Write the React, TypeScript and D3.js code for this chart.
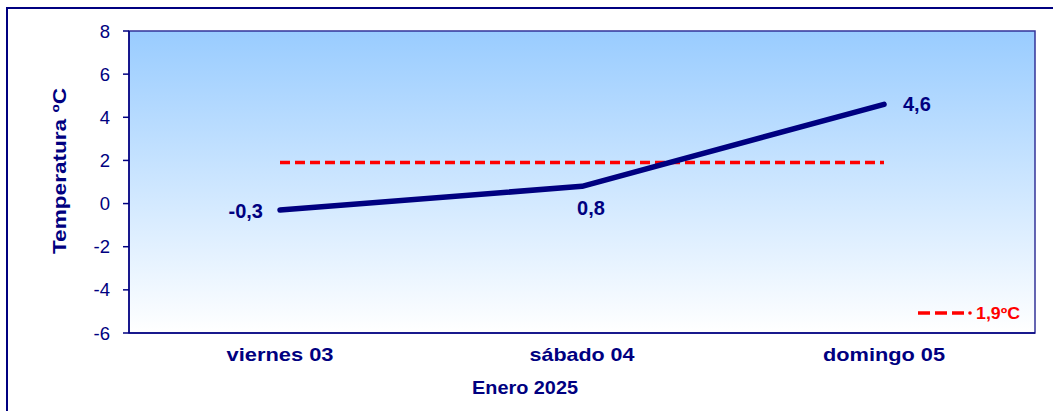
import React from "react";
import * as d3 from "d3";

const categories = ["viernes 03", "sábado 04", "domingo 05"];
const temps = [-0.3, 0.8, 4.6];
const tempLabels = ["-0,3", "0,8", "4,6"];
const average = 1.9;
const averageLabel = "1,9ºC";
const yTicks = [-6, -4, -2, 0, 2, 4, 6, 8];
const xTitle = "Enero 2025";
const yTitle = "Temperatura ºC";

const W = 1053;
const H = 411;
const plot = { left: 129, top: 31, right: 1035, bottom: 333 };
const navy = "#000080";
const font = "Liberation Sans, Arial, sans-serif";

export default function App() {
  const x = d3
    .scaleBand<string>()
    .domain(categories)
    .range([plot.left, plot.right])
    .padding(0);
  const y = d3.scaleLinear().domain([-6, 8]).range([plot.bottom, plot.top]);
  const cx = (c: string) => (x(c) as number) + x.bandwidth() / 2;

  const pts = categories.map((c, i) => [cx(c), y(temps[i])] as [number, number]);
  const line = d3.line()(pts) as string;

  const labelWidths = [107, 105, 122];
  const dataLabelPos = [
    { dx: -17, anchor: "end", dy: 8 },
    { dx: 9, anchor: "middle", dy: 29 },
    { dx: 19, anchor: "start", dy: 7 },
  ];

  return (
    <svg
      width={W}
      height={H}
      style={{ position: "absolute", left: 0, top: 0 }}
      fontFamily={font}
    >
      <defs>
        <linearGradient id="bg" x1="0" y1="0" x2="0" y2="1">
          <stop offset="0" stopColor="#99CCFF" />
          <stop offset="1" stopColor="#FFFFFF" />
        </linearGradient>
      </defs>
      <rect x={0} y={0} width={W} height={H} fill="#fff" />
      <rect x={7} y={8} width={W + 20} height={H + 20} fill="none" stroke={navy} strokeWidth={2} />

      <rect
        x={plot.left}
        y={plot.top}
        width={plot.right - plot.left}
        height={plot.bottom - plot.top}
        fill="url(#bg)"
        stroke="#333399"
        strokeWidth={1.5}
      />
      <line x1={plot.left} x2={plot.left} y1={plot.top} y2={plot.bottom} stroke={navy} strokeWidth={1.5} />
      <line x1={plot.left} x2={plot.right} y1={plot.bottom} y2={plot.bottom} stroke={navy} strokeWidth={1.5} />

      {yTicks.map((t) => (
        <g key={t}>
          <line x1={plot.left - 6} x2={plot.left} y1={y(t)} y2={y(t)} stroke={navy} strokeWidth={1.5} />
          <text x={110} y={y(t) + 6.5} textAnchor="end" fontSize={18.5} fill={navy}>
            {t}
          </text>
        </g>
      ))}

      {categories.map((c, i) => (
        <text
          key={c}
          x={cx(c)}
          y={361}
          textAnchor="middle"
          fontSize={19}
          fontWeight="bold"
          fill={navy}
          textLength={labelWidths[i]}
          lengthAdjust="spacingAndGlyphs"
        >
          {c}
        </text>
      ))}

      <text
        x={525}
        y={394}
        textAnchor="middle"
        fontSize={19}
        fontWeight="bold"
        fill={navy}
        textLength={106}
        lengthAdjust="spacingAndGlyphs"
      >
        {xTitle}
      </text>

      <text
        transform={`translate(66,171) rotate(-90)`}
        textAnchor="middle"
        fontSize={17.5}
        fontWeight="bold"
        fill={navy}
        textLength={166}
        lengthAdjust="spacingAndGlyphs"
      >
        {yTitle}
      </text>

      <line
        x1={cx(categories[0])}
        x2={cx(categories[categories.length - 1])}
        y1={y(average)}
        y2={y(average)}
        stroke="#FF0000"
        strokeWidth={3.5}
        strokeDasharray="10,5"
      />

      <path d={line} fill="none" stroke={navy} strokeWidth={5.5} strokeLinecap="round" strokeLinejoin="round" />

      {categories.map((c, i) => (
        <text
          key={"l" + c}
          x={pts[i][0] + dataLabelPos[i].dx}
          y={pts[i][1] + dataLabelPos[i].dy}
          textAnchor={dataLabelPos[i].anchor as any}
          fontSize={20}
          fontWeight="bold"
          fill={navy}
        >
          {tempLabels[i]}
        </text>
      ))}

      <line x1={918} x2={964} y1={313} y2={313} stroke="#FF0000" strokeWidth={3.5} strokeDasharray="12,5" />
      <circle cx={970} cy={313} r={1.8} fill="#FF0000" />
      <text
        x={976}
        y={319}
        fontSize={16}
        fontWeight="bold"
        fill="#FF0000"
        textLength={44}
        lengthAdjust="spacingAndGlyphs"
      >
        {averageLabel}
      </text>
    </svg>
  );
}
